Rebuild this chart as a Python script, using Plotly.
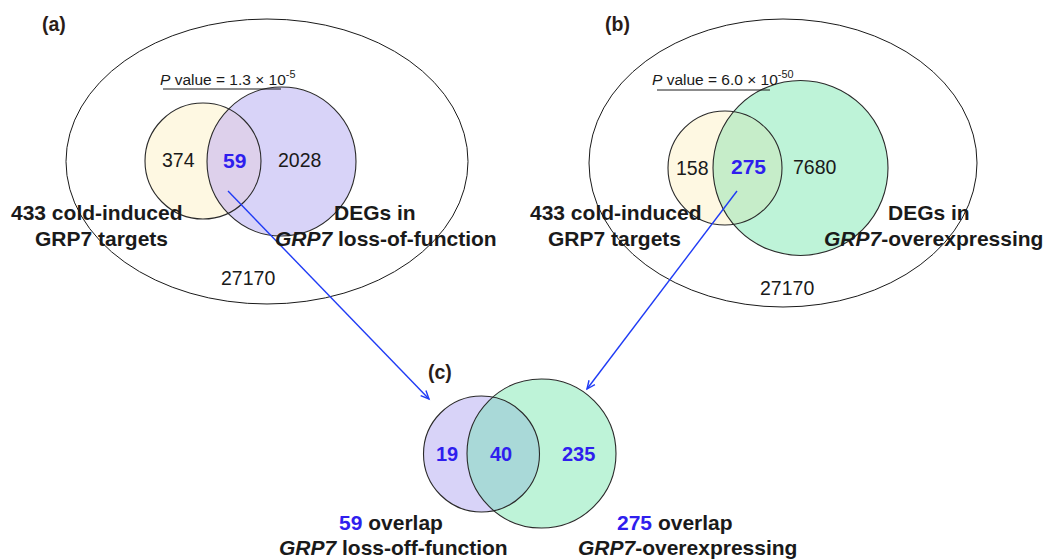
import math
import plotly.graph_objects as go

# ---------------- data ----------------
panel_labels = ["(a)", "(b)", "(c)"]
a_counts = [374, 59, 2028]          # only cold targets, overlap, only DEGs
b_counts = [158, 275, 7680]
c_counts = [19, 40, 235]            # only loss, overlap, only overexpressing
background_total = [27170, 27170]
a_pvalue = ("1.3", "-5")
b_pvalue = ("6.0", "-50")
set_left_label = ["433 cold-induced", "GRP7 targets"]
a_right_label = ["DEGs in", "<i>GRP7</i> loss-of-function"]
b_right_label = ["DEGs in", "<i>GRP7</i>-overexpressing"]
c_left_label = ["59", " overlap", "<i>GRP7</i> loss-off-function"]
c_right_label = ["275", " overlap", "<i>GRP7</i>-overexpressing"]

# ---------------- styles / layout ----------------
W, H = 1063, 559
FONT = "Liberation Sans, Arial, sans-serif"
BLACK = "#1a1a1a"
BLUE = "#2F1EEE"
ARROW = "#1F3BF5"
YELLOW = "#FEF8E2"
PURPLE = "#D8D3F8"
GREEN = "#BEF3D8"
A_OVER = "#DDD0EB"
B_OVER = "#C6EDC9"
C_OVER = "#A9D9D8"
EDGE = "#2a2a2a"
LBL = 21      # bold set labels
NUM = 19.5    # plain counts
BNUM = 21     # blue overlap counts in (a)/(b)
CNUM = 20     # blue counts in (c)
PL = 19.5     # panel letters

shapes = []
annotations = []


def circle_fill(cx, cy, r, color):
    shapes.append(dict(type="circle", xref="x", yref="y", x0=cx - r, x1=cx + r,
                       y0=cy - r, y1=cy + r, fillcolor=color, line=dict(width=0)))


def circle_edge(cx, cy, r, w=1.1):
    shapes.append(dict(type="circle", xref="x", yref="y", x0=cx - r, x1=cx + r,
                       y0=cy - r, y1=cy + r, fillcolor="rgba(0,0,0,0)",
                       line=dict(color=EDGE, width=w)))


def lens(c1, c2, color, n=60):
    x1, y1, r1 = c1
    x2, y2, r2 = c2
    dx, dy = x2 - x1, y2 - y1
    d = math.hypot(dx, dy)
    a = (r1 ** 2 - r2 ** 2 + d ** 2) / (2 * d)
    th = math.atan2(dy, dx)
    al1 = math.acos(a / r1)
    al2 = math.acos((d - a) / r2)
    ph = th + math.pi
    pts = []
    for i in range(n + 1):
        t = th - al1 + 2 * al1 * i / n
        pts.append((x1 + r1 * math.cos(t), y1 + r1 * math.sin(t)))
    for i in range(n + 1):
        t = ph - al2 + 2 * al2 * i / n
        pts.append((x2 + r2 * math.cos(t), y2 + r2 * math.sin(t)))
    path = "M " + " L ".join(f"{px:.2f},{py:.2f}" for px, py in pts) + " Z"
    shapes.append(dict(type="path", xref="x", yref="y", path=path,
                       fillcolor=color, line=dict(width=0)))


def text(x, y, s, size=NUM, color=BLACK, xanchor="center"):
    annotations.append(dict(x=x, y=y, xref="x", yref="y", text=s, showarrow=False,
                            xanchor=xanchor, yanchor="middle",
                            font=dict(family=FONT, size=size, color=color)))


def arrow(sx, sy, tx, ty, head=9, spread=0.42):
    shapes.append(dict(type="line", xref="x", yref="y", x0=sx, y0=sy, x1=tx, y1=ty,
                       line=dict(color=ARROW, width=1.4)))
    ang = math.atan2(ty - sy, tx - sx)
    p1 = (tx - head * math.cos(ang - spread), ty - head * math.sin(ang - spread))
    p2 = (tx - head * math.cos(ang + spread), ty - head * math.sin(ang + spread))
    path = (f"M {p1[0]:.2f},{p1[1]:.2f} L {tx:.2f},{ty:.2f} "
            f"L {p2[0]:.2f},{p2[1]:.2f}")
    shapes.append(dict(type="path", xref="x", yref="y", path=path,
                       line=dict(color=ARROW, width=1.4)))


def venn_panel(outer, cl, cr, colL, colR, colO):
    if outer is not None:
        ox, oy, rx, ry = outer
        shapes.append(dict(type="circle", xref="x", yref="y", x0=ox - rx, x1=ox + rx,
                           y0=oy - ry, y1=oy + ry, fillcolor="rgba(0,0,0,0)",
                           line=dict(color=BLACK, width=1)))
    circle_fill(*cl, colL)
    circle_fill(*cr, colR)
    lens(cl, cr, colO)
    circle_edge(*cl)
    circle_edge(*cr)


# ---- panel (a)
A_OUT = (267, 161.5, 201, 142.5)
A_L = (203, 161, 58)
A_R = (281.5, 161.5, 74.5)
venn_panel(A_OUT, A_L, A_R, YELLOW, PURPLE, A_OVER)
text(178, 160, str(a_counts[0]))
text(234, 160, f"<b>{a_counts[1]}</b>", size=BNUM, color=BLUE)
text(299, 160, str(a_counts[2]))
text(248, 278, str(background_total[0]))
text(97, 212, f"<b>{set_left_label[0]}</b>", size=LBL)
text(101, 238, f"<b>{set_left_label[1]}</b>", size=LBL)
text(375, 212, f"<b>{a_right_label[0]}</b>", size=LBL)
text(386, 238, f"<b>{a_right_label[1]}</b>", size=LBL)
text(158, 78, f"<i>P</i> value = {a_pvalue[0]} × 10<sup>{a_pvalue[1]}</sup>", size=15.5,
     xanchor="left")
shapes.append(dict(type="line", xref="x", yref="y", x0=163, x1=281, y0=89, y1=89,
                   line=dict(color=BLACK, width=1)))
text(54, 24, f"<b>{panel_labels[0]}</b>", size=PL, color="#2a1c18")

# ---- panel (b)
B_OUT = (783, 163, 194, 144)
B_L = (725, 168, 57)
B_R = (800.5, 168, 87.5)
venn_panel(B_OUT, B_L, B_R, YELLOW, GREEN, B_OVER)
text(692, 168, str(b_counts[0]))
text(748, 166, f"<b>{b_counts[1]}</b>", size=BNUM, color=BLUE)
text(815, 167, str(b_counts[2]))
text(787, 288, str(background_total[1]))
text(616, 212, f"<b>{set_left_label[0]}</b>", size=LBL)
text(614.5, 238, f"<b>{set_left_label[1]}</b>", size=LBL)
text(929, 212, f"<b>{b_right_label[0]}</b>", size=LBL)
text(933, 238, f"<b>{b_right_label[1]}</b>", size=LBL)
text(650, 78, f"<i>P</i> value = {b_pvalue[0]} × 10<sup>{b_pvalue[1]}</sup>", size=15.5,
     xanchor="left")
shapes.append(dict(type="line", xref="x", yref="y", x0=657, x1=770, y0=90, y1=90,
                   line=dict(color=BLACK, width=1)))
text(617, 24, f"<b>{panel_labels[1]}</b>", size=PL, color="#2a1c18")

# ---- panel (c)
C_L = (481.5, 454, 58)
C_R = (541.5, 453.5, 74.5)
venn_panel(None, C_L, C_R, PURPLE, GREEN, C_OVER)
text(447, 454, f"<b>{c_counts[0]}</b>", size=CNUM, color=BLUE)
text(501, 454, f"<b>{c_counts[1]}</b>", size=CNUM, color=BLUE)
text(578, 454, f"<b>{c_counts[2]}</b>", size=CNUM, color=BLUE)
text(391, 522, f"<b><span style='color:{BLUE}'>{c_left_label[0]}</span>{c_left_label[1]}</b>",
     size=LBL)
text(393, 547, f"<b>{c_left_label[2]}</b>", size=LBL)
text(675, 522, f"<b><span style='color:{BLUE}'>{c_right_label[0]}</span>{c_right_label[1]}</b>",
     size=LBL)
text(687, 547, f"<b>{c_right_label[2]}</b>", size=LBL)
text(440, 372, f"<b>{panel_labels[2]}</b>", size=PL, color="#2a1c18")

# ---- arrows linking overlaps to panel (c)
arrow(228, 191, 429, 399)
arrow(737, 191, 587, 389)

fig = go.Figure()
fig.update_layout(
    width=W, height=H, margin=dict(l=0, r=0, t=0, b=0),
    paper_bgcolor="white", plot_bgcolor="white",
    xaxis=dict(range=[0, W], visible=False, fixedrange=True),
    yaxis=dict(range=[H, 0], visible=False, fixedrange=True),
    shapes=shapes, annotations=annotations, showlegend=False,
)
fig.write_html("out.html", config={"displayModeBar": False},
               post_script="document.body.style.margin='0';")
